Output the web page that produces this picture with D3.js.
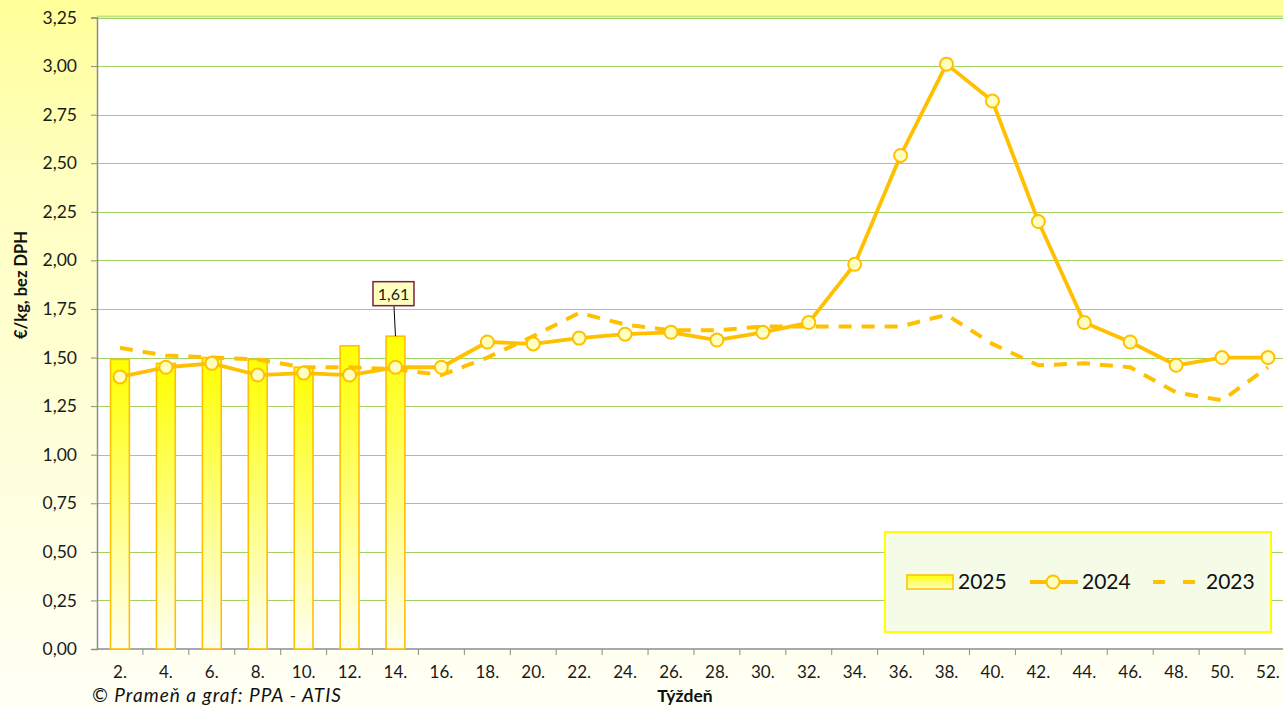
<!DOCTYPE html>
<html>
<head>
<meta charset="utf-8">
<script src="https://cdn.jsdelivr.net/npm/d3@7"></script>
<style>
  html, body { margin: 0; padding: 0; overflow: hidden; }
  body { font-family: Lato, "Open Sans", sans-serif; }
</style>
</head>
<body>
<svg id="canvas"></svg>
<script>
// Chart data
const weeks = ["2.", "4.", "6.", "8.", "10.", "12.", "14.", "16.", "18.", "20.", "22.", "24.", "26.",
    "28.", "30.", "32.", "34.", "36.", "38.", "40.", "42.", "44.", "46.", "48.", "50.", "52."];
const bars2025 = [1.49, 1.47, 1.50, 1.49, 1.45, 1.56, 1.61];
const line2024 = [1.40, 1.45, 1.47, 1.41, 1.42, 1.41, 1.45, 1.45, 1.58, 1.57, 1.60, 1.62, 1.63,
    1.59, 1.63, 1.68, 1.98, 2.54, 3.01, 2.82, 2.20, 1.68, 1.58, 1.46, 1.50, 1.50];
const line2023 = [1.55, 1.51, 1.50, 1.49, 1.45, 1.45, 1.44, 1.41, 1.50, 1.61, 1.73, 1.67, 1.64,
    1.64, 1.66, 1.66, 1.66, 1.66, 1.72, 1.57, 1.46, 1.47, 1.45, 1.32, 1.28, 1.45];
const yTicks = [0, 0.25, 0.5, 0.75, 1, 1.25, 1.5, 1.75, 2, 2.25, 2.5, 2.75, 3, 3.25];
const labelled = { week: "14.", text: "1,61" };

const width = 1283;
const height = 708;
const orange = "#FFC000";

const svg = d3.select("#canvas")
    .attr("width", width)
    .attr("height", height);

const defs = svg.append("defs");

// chart background: yellow at top fading to near white
const bg = defs.append("linearGradient").attr("id", "bgGrad")
    .attr("x1", 0).attr("y1", 0).attr("x2", 0).attr("y2", 1);
bg.append("stop").attr("offset", "0%").attr("stop-color", "#FFFF99");
bg.append("stop").attr("offset", "25%").attr("stop-color", "#FFFFC0");
bg.append("stop").attr("offset", "100%").attr("stop-color", "#FFFFF6");

const barGrad = defs.append("linearGradient").attr("id", "barGrad")
    .attr("x1", 0).attr("y1", 0).attr("x2", 0).attr("y2", 1);
barGrad.append("stop").attr("offset", "0%").attr("stop-color", "#FFFF00");
barGrad.append("stop").attr("offset", "100%").attr("stop-color", "#FFFFF4");

const swatchGrad = defs.append("linearGradient").attr("id", "swatchGrad")
    .attr("x1", 0).attr("y1", 0).attr("x2", 0).attr("y2", 1);
swatchGrad.append("stop").attr("offset", "0%").attr("stop-color", "#FFFF00");
swatchGrad.append("stop").attr("offset", "100%").attr("stop-color", "#FFFFD0");

svg.append("rect")
    .attr("width", width).attr("height", height)
    .attr("fill", "url(#bgGrad)");

// Plot area
const plot = { left: 97, right: 97 + 26 * 45.92, top: 17.5, bottom: 649 };

const x = d3.scaleBand()
    .domain(weeks)
    .range([plot.left, plot.right]);

const y = d3.scaleLinear()
    .domain([0, 3.25])
    .range([plot.bottom, plot.top]);

svg.append("rect")
    .attr("x", plot.left).attr("y", plot.top)
    .attr("width", plot.right - plot.left).attr("height", plot.bottom - plot.top)
    .attr("fill", "#FFFFFF");

// top border line of the plot
svg.append("line")
    .attr("x1", plot.left).attr("x2", width)
    .attr("y1", plot.top - 1).attr("y2", plot.top - 1)
    .attr("stroke", "#C4E38E").attr("stroke-width", 2);

// Gridlines
svg.append("g")
    .selectAll("line")
    .data(yTicks.filter(d => d > 0))
    .enter()
    .append("line")
    .attr("x1", plot.left).attr("x2", width)
    .attr("y1", d => Math.round(y(d)) + 0.5)
    .attr("y2", d => Math.round(y(d)) + 0.5)
    .attr("stroke", "#9ED362")
    .attr("stroke-width", 1.2);

// Y axis
const yAxis = svg.append("g")
    .attr("transform", `translate(${plot.left},0)`)
    .call(d3.axisLeft(y)
        .tickValues(yTicks)
        .tickSize(6)
        .tickPadding(14)
        .tickFormat(d => d3.format(".2f")(d).replace(".", ",")));
yAxis.select(".domain").attr("stroke", "#8C8C8C").attr("stroke-width", 1.5);
yAxis.selectAll(".tick line").attr("stroke", "#8C8C8C");
yAxis.selectAll("text")
    .attr("font-family", "Lato, sans-serif")
    .attr("font-size", 17.5)
    .attr("fill", "#1a1a1a");

// X axis with ticks on category boundaries
const xAxisG = svg.append("g")
    .attr("transform", `translate(0,${plot.bottom})`);
xAxisG.append("line")
    .attr("x1", plot.left).attr("x2", width)
    .attr("y1", 0).attr("y2", 0)
    .attr("stroke", "#8C8C8C").attr("stroke-width", 1.5);
xAxisG.selectAll(".xtick")
    .data(weeks)
    .enter()
    .append("line")
    .attr("x1", d => x(d) + x.bandwidth())
    .attr("x2", d => x(d) + x.bandwidth())
    .attr("y1", 0).attr("y2", 6)
    .attr("stroke", "#8C8C8C");
xAxisG.selectAll(".xlabel")
    .data(weeks)
    .enter()
    .append("text")
    .attr("x", d => x(d) + x.bandwidth() / 2)
    .attr("y", 29)
    .attr("text-anchor", "middle")
    .attr("font-size", 17)
    .attr("fill", "#1a1a1a")
    .text(d => d);

// Bars 2025
const barW = x.bandwidth() * 0.41;
const barData = bars2025.map((v, i) => ({ week: weeks[i], value: v }));
svg.append("g")
    .selectAll("rect")
    .data(barData)
    .enter()
    .append("rect")
    .attr("x", d => x(d.week) + x.bandwidth() / 2 - barW / 2)
    .attr("y", d => y(d.value))
    .attr("width", barW)
    .attr("height", d => y(0) - y(d.value))
    .attr("fill", "url(#barGrad)")
    .attr("stroke", orange)
    .attr("stroke-width", 1.6);

const cx = d => x(d) + x.bandwidth() / 2;

// Line 2023 (dashed)
const line = d3.line()
    .x(d => cx(d.week))
    .y(d => y(d.value));

svg.append("path")
    .datum(line2023.map((v, i) => ({ week: weeks[i], value: v })))
    .attr("d", line)
    .attr("fill", "none")
    .attr("stroke", orange)
    .attr("stroke-width", 4)
    .attr("stroke-dasharray", "13,10");

// Line 2024 with markers
const data2024 = line2024.map((v, i) => ({ week: weeks[i], value: v }));
svg.append("path")
    .datum(data2024)
    .attr("d", line)
    .attr("fill", "none")
    .attr("stroke", orange)
    .attr("stroke-width", 3.8)
    .attr("stroke-linejoin", "round");

svg.append("g")
    .selectAll("circle")
    .data(data2024)
    .enter()
    .append("circle")
    .attr("cx", d => cx(d.week))
    .attr("cy", d => y(d.value))
    .attr("r", 6.5)
    .attr("fill", "#FFFFC0")
    .attr("stroke", orange)
    .attr("stroke-width", 2);

// Data label for the last bar
const lbBar = barData.find(d => d.week === labelled.week);
const lbX = cx(lbBar.week) - 2;
const lbBottom = y(lbBar.value) - 30;
svg.append("line")
    .attr("x1", lbX + 0.5).attr("y1", lbBottom)
    .attr("x2", cx(lbBar.week)).attr("y2", y(lbBar.value))
    .attr("stroke", "#000").attr("stroke-width", 1);
svg.append("rect")
    .attr("x", lbX - 20.5).attr("y", lbBottom - 24.5)
    .attr("width", 41).attr("height", 24)
    .attr("fill", "#FFFFC0")
    .attr("stroke", "#7A1F4A")
    .attr("stroke-width", 1.5);
svg.append("text")
    .attr("x", lbX).attr("y", lbBottom - 6.5)
    .attr("text-anchor", "middle")
    .attr("font-size", 16)
    .attr("fill", "#1a1a1a")
    .text(labelled.text);

// Legend
const legend = svg.append("g");
legend.append("rect")
    .attr("x", 885).attr("y", 532)
    .attr("width", 386).attr("height", 100)
    .attr("fill", "#F4FBE7")
    .attr("stroke", "#FFFF00")
    .attr("stroke-width", 2);

legend.append("rect")
    .attr("x", 907).attr("y", 575)
    .attr("width", 46).attr("height", 14)
    .attr("fill", "url(#swatchGrad)")
    .attr("stroke", orange).attr("stroke-width", 1.5);
legend.append("text")
    .attr("x", 958).attr("y", 589)
    .attr("font-size", 21).attr("fill", "#111")
    .text("2025");

legend.append("line")
    .attr("x1", 1030).attr("x2", 1078).attr("y1", 582).attr("y2", 582)
    .attr("stroke", orange).attr("stroke-width", 3.8);
legend.append("circle")
    .attr("cx", 1053).attr("cy", 582).attr("r", 6.5)
    .attr("fill", "#FFFFC0").attr("stroke", orange).attr("stroke-width", 2);
legend.append("text")
    .attr("x", 1082).attr("y", 589)
    .attr("font-size", 21).attr("fill", "#111")
    .text("2024");

legend.append("line")
    .attr("x1", 1153).attr("x2", 1198).attr("y1", 582).attr("y2", 582)
    .attr("stroke", orange).attr("stroke-width", 4)
    .attr("stroke-dasharray", "12,18");
legend.append("text")
    .attr("x", 1206).attr("y", 589)
    .attr("font-size", 21).attr("fill", "#111")
    .text("2023");

// Axis titles
svg.append("text")
    .attr("transform", "translate(27,285) rotate(-90)")
    .attr("text-anchor", "middle")
    .attr("font-size", 16.5)
    .attr("font-weight", "bold")
    .attr("fill", "#111")
    .text("€/kg, bez DPH");

svg.append("text")
    .attr("x", 685).attr("y", 702)
    .attr("text-anchor", "middle")
    .attr("font-size", 17.5)
    .attr("font-weight", "bold")
    .attr("fill", "#111")
    .text("Týždeň");

svg.append("text")
    .attr("x", 92).attr("y", 702)
    .attr("font-size", 19)
    .attr("font-style", "italic")
    .attr("fill", "#111")
    .attr("textLength", 249)
    .attr("lengthAdjust", "spacing")
    .text("© Prameň a graf: PPA - ATIS");
</script>
</body>
</html>
